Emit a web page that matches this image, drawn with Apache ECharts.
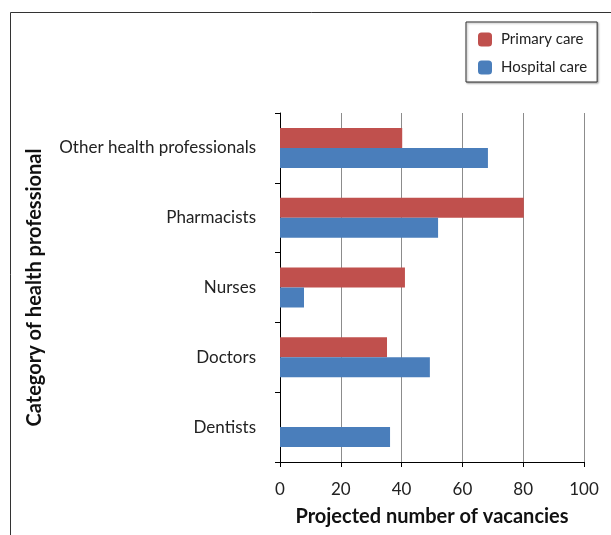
<!DOCTYPE html>
<html>
<head>
<meta charset="utf-8">
<script src="https://cdn.jsdelivr.net/npm/echarts@6/dist/echarts.min.js"></script>
<style>
    html, body { margin: 0; padding: 0; background: #fff; }
    #main { width: 611px; height: 535px; }
</style>
</head>
<body>
<div id="main"></div>
<script>
// categories from bottom to top (ECharts draws y category upwards)
var categories = ["Dentists", "Doctors", "Nurses", "Pharmacists", "Other health professionals"];
var primaryCare = [0, 35.2, 41.1, 80.2, 40.2];
var hospitalCare = [36.2, 49.3, 7.9, 52, 68.4];
var xTicks = [0, 20, 40, 60, 80, 100];

var fontName = "Lato";
var chart = echarts.init(document.getElementById("main"));

var option = {
    backgroundColor: "#fff",
    animation: false,
    textStyle: { fontFamily: fontName },
    graphic: [{
        type: "rect",
        shape: { x: 10.5, y: 12.5, width: 640, height: 560 },
        style: { fill: "none", stroke: "#333", lineWidth: 1 },
        z: -1
    }],
    legend: {
        data: ["Primary care", "Hospital care"],
        orient: "vertical",
        left: 466,
        top: 22,
        padding: [10, 10, 7, 12],
        itemGap: 13,
        itemWidth: 14,
        itemHeight: 14,
        borderColor: "#333",
        borderWidth: 1,
        shadowColor: "rgba(0,0,0,0.35)",
        shadowBlur: 2,
        shadowOffsetX: 1,
        shadowOffsetY: 1,
        backgroundColor: "#fff",
        textStyle: { fontFamily: fontName, fontSize: 15, color: "#222", padding: [0, 0, 0, 4] }
    },
    grid: { left: 280, right: 27, top: 113, bottom: 73 },
    xAxis: {
        type: "value",
        min: xTicks[0],
        max: xTicks[xTicks.length - 1],
        interval: 20,
        name: "Projected number of vacancies",
        nameLocation: "middle",
        nameGap: 45,
        nameTextStyle: { fontFamily: fontName, fontSize: 20, fontWeight: "bold", color: "#111" },
        axisLine: { show: true, lineStyle: { color: "#000", width: 1 } },
        axisTick: { show: true, length: 5, lineStyle: { color: "#000" } },
        axisLabel: { margin: 19, fontSize: 17, color: "#222", fontFamily: fontName },
        splitLine: { show: true, lineStyle: { color: "#8c8c8c", width: 1 } }
    },
    yAxis: {
        type: "category",
        data: categories,
        name: "Category of health professional",
        nameLocation: "middle",
        nameGap: 235,
        nameRotate: 90,
        nameTextStyle: { fontFamily: fontName, fontSize: 20, fontWeight: "bold", color: "#111" },
        axisLine: { show: true, lineStyle: { color: "#000", width: 1 } },
        axisTick: { show: true, length: 5, lineStyle: { color: "#000" } },
        axisLabel: { margin: 24, fontSize: 17, color: "#222", fontFamily: fontName, padding: [4, 0, 0, 0] },
        splitLine: { show: false }
    },
    series: [{
        name: "Primary care",
        type: "bar",
        data: primaryCare,
        barWidth: 20,
        barGap: "0%",
        itemStyle: { color: "#c0504d" }
    }, {
        name: "Hospital care",
        type: "bar",
        data: hospitalCare,
        barWidth: 20,
        barGap: "0%",
        itemStyle: { color: "#4a7ebb" }
    }]
};

chart.setOption(option);
</script>
</body>
</html>
